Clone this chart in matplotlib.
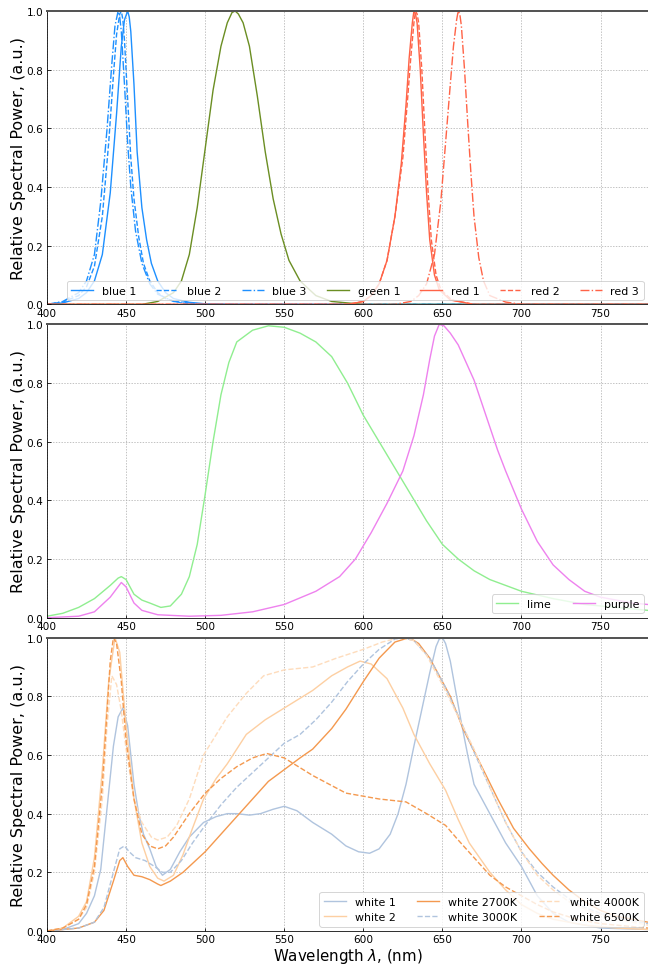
import numpy as np
import matplotlib.pyplot as plt

# ---- top panel: single-colour LEDs ----
wl_blue1 = [400, 410, 420, 425, 430, 435, 440, 444, 447, 449, 451, 452, 453, 455, 457, 460, 463, 466, 470, 475, 480, 490, 500, 520, 780]
blue1 = [0, 0.005, 0.02, 0.04, 0.08, 0.17, 0.38, 0.65, 0.88, 0.97, 1.0, 0.98, 0.93, 0.75, 0.52, 0.33, 0.22, 0.14, 0.08, 0.04, 0.02, 0.007, 0.002, 0, 0]

wl_blue2 = [400, 410, 420, 425, 430, 435, 439, 442, 444, 446, 447, 448, 449, 451, 453, 455, 458, 461, 465, 470, 475, 485, 500, 780]
blue2 = [0, 0.008, 0.03, 0.06, 0.13, 0.3, 0.55, 0.78, 0.92, 0.99, 1.0, 0.97, 0.9, 0.7, 0.5, 0.36, 0.23, 0.14, 0.08, 0.04, 0.02, 0.005, 0, 0]

wl_blue3 = [400, 410, 420, 425, 430, 434, 438, 441, 443, 445, 446, 447, 449, 451, 453, 456, 460, 465, 470, 480, 500, 780]
blue3 = [0, 0.01, 0.04, 0.08, 0.17, 0.35, 0.6, 0.82, 0.95, 1.0, 0.98, 0.93, 0.75, 0.55, 0.4, 0.25, 0.14, 0.07, 0.035, 0.01, 0, 0]

wl_green1 = [400, 460, 470, 480, 485, 490, 495, 500, 505, 510, 514, 517, 519, 521, 524, 528, 533, 538, 543, 548, 553, 560, 570, 580, 600, 780]
green1 = [0, 0, 0.01, 0.04, 0.08, 0.17, 0.33, 0.53, 0.73, 0.88, 0.96, 0.995, 1.0, 0.99, 0.96, 0.88, 0.71, 0.52, 0.36, 0.24, 0.15, 0.08, 0.03, 0.01, 0, 0]

wl_red1 = [400, 590, 600, 605, 610, 615, 620, 624, 627, 629, 631, 632, 633, 634, 636, 638, 640, 642, 645, 648, 655, 670, 780]
red1 = [0, 0, 0.01, 0.03, 0.07, 0.15, 0.3, 0.48, 0.68, 0.84, 0.96, 1.0, 0.99, 0.96, 0.8, 0.58, 0.38, 0.22, 0.1, 0.05, 0.015, 0, 0]

wl_red2 = [400, 590, 600, 605, 610, 615, 620, 625, 628, 630, 632, 633, 634, 635, 637, 639, 641, 643, 646, 649, 656, 670, 780]
red2 = [0, 0, 0.01, 0.03, 0.07, 0.15, 0.3, 0.5, 0.7, 0.84, 0.96, 1.0, 0.99, 0.96, 0.8, 0.58, 0.38, 0.22, 0.1, 0.05, 0.015, 0, 0]

wl_red3 = [400, 620, 630, 635, 640, 645, 649, 652, 655, 657, 659, 660, 661, 662, 664, 666, 668, 670, 673, 676, 680, 690, 700, 780]
red3 = [0, 0, 0.01, 0.03, 0.07, 0.17, 0.35, 0.55, 0.75, 0.88, 0.97, 1.0, 0.99, 0.95, 0.8, 0.62, 0.45, 0.3, 0.16, 0.08, 0.03, 0.008, 0, 0]

# ---- middle panel: phosphor-converted colours ----
wl_lime = [400, 410, 420, 430, 440, 445, 447, 450, 455, 460, 465, 472, 478, 485, 490, 495, 500, 505, 510, 515, 520, 530, 540, 550,
           560, 570, 580, 590, 600, 610, 620, 630, 640, 650, 660, 670, 680, 690, 700, 720, 740, 760, 780]
lime = [0.005, 0.015, 0.035, 0.065, 0.11, 0.135, 0.14, 0.13, 0.08, 0.06, 0.05, 0.035, 0.04, 0.08, 0.14, 0.25, 0.42, 0.6, 0.76, 0.87, 0.94, 0.98, 0.995, 0.99,
        0.97, 0.94, 0.89, 0.8, 0.69, 0.6, 0.51, 0.42, 0.33, 0.25, 0.2, 0.16, 0.13, 0.11, 0.09, 0.065, 0.045, 0.035, 0.025]

wl_purple = [400, 420, 430, 440, 447, 450, 455, 460, 470, 490, 510, 530, 550, 570, 585, 595, 605, 615, 625, 632, 638, 642, 645, 648,
             651, 655, 660, 670, 680, 685, 690, 700, 710, 720, 730, 740, 750, 760, 770, 780]
purple = [0, 0.005, 0.02, 0.07, 0.12, 0.105, 0.05, 0.025, 0.01, 0.005, 0.008, 0.02, 0.045, 0.09, 0.14, 0.2, 0.29, 0.39, 0.5, 0.62, 0.76, 0.88, 0.96, 1.0,
          0.995, 0.97, 0.93, 0.81, 0.65, 0.57, 0.5, 0.37, 0.26, 0.18, 0.13, 0.09, 0.07, 0.06, 0.05, 0.045]

# ---- bottom panel: white LEDs ----
wl_white1 = [400, 410, 420, 425, 430, 434, 438, 442, 445, 448, 451, 455, 458, 461, 465, 469, 473, 478, 484, 490, 499, 507, 514, 520, 528, 535,
             543, 550, 558, 568, 580, 589, 597, 604, 610, 617, 622, 627, 632, 638, 642, 646, 648, 650, 652, 655, 658, 662, 666, 670, 680, 690,
             700, 710, 720, 730, 750, 780]
white1 = [0, 0.005, 0.025, 0.06, 0.12, 0.21, 0.42, 0.63, 0.73, 0.76, 0.7, 0.5, 0.4, 0.33, 0.28, 0.22, 0.19, 0.21, 0.27, 0.32, 0.37, 0.39, 0.4, 0.4, 0.395, 0.4,
          0.415, 0.425, 0.41, 0.37, 0.33, 0.29, 0.27, 0.265, 0.28, 0.33, 0.4, 0.5, 0.63, 0.78, 0.88, 0.97, 0.995, 1.0, 0.98, 0.92, 0.83, 0.71, 0.6, 0.5, 0.4, 0.3,
          0.22, 0.12, 0.06, 0.03, 0.01, 0.005]

wl_white2 = [400, 410, 420, 425, 430, 435, 439, 443, 446, 450, 455, 460, 465, 470, 474, 480, 486, 492, 499, 507, 514, 526, 538, 550,
             568, 580, 590, 598, 605, 615, 625, 632, 642, 652, 660, 667, 680, 690, 700, 710, 720, 740, 760, 780]
white2 = [0, 0.01, 0.05, 0.1, 0.25, 0.55, 0.85, 1.0, 0.95, 0.7, 0.45, 0.3, 0.22, 0.18, 0.17, 0.19, 0.26, 0.35, 0.45, 0.52, 0.57, 0.67, 0.72, 0.76,
          0.82, 0.87, 0.9, 0.92, 0.91, 0.86, 0.76, 0.67, 0.57, 0.48, 0.38, 0.3, 0.2, 0.14, 0.09, 0.06, 0.04, 0.02, 0.01, 0.005]

wl_w2700 = [400, 420, 430, 436, 442, 446, 448, 451, 455, 460, 465, 470, 472, 478, 486, 494, 500, 510, 520, 530, 540, 550, 560, 568,
            580, 589, 600, 610, 620, 629, 635, 642, 655, 663, 674, 685, 695, 705, 713, 720, 730, 740, 750, 760, 780]
w2700 = [0, 0.01, 0.03, 0.07, 0.17, 0.24, 0.25, 0.22, 0.19, 0.185, 0.175, 0.16, 0.155, 0.17, 0.2, 0.24, 0.27, 0.33, 0.39, 0.45, 0.51, 0.55, 0.59, 0.62,
         0.69, 0.756, 0.85, 0.93, 0.985, 1.0, 0.98, 0.93, 0.8, 0.69, 0.57, 0.45, 0.35, 0.28, 0.23, 0.19, 0.14, 0.1, 0.07, 0.05, 0.03]

wl_w3000 = [400, 420, 430, 436, 442, 446, 449, 452, 456, 462, 468, 473, 478, 485, 492, 500, 510, 520, 530, 540, 550, 560, 570, 580,
            590, 600, 610, 620, 625, 632, 642, 652, 662, 670, 680, 690, 700, 710, 720, 730, 740, 750, 765, 780]
w3000 = [0, 0.01, 0.03, 0.08, 0.2, 0.28, 0.29, 0.27, 0.25, 0.24, 0.22, 0.2, 0.2, 0.24, 0.3, 0.36, 0.43, 0.49, 0.54, 0.59, 0.64, 0.67, 0.72, 0.78,
         0.85, 0.91, 0.96, 0.995, 1.0, 0.99, 0.93, 0.83, 0.71, 0.61, 0.49, 0.37, 0.27, 0.2, 0.15, 0.11, 0.08, 0.06, 0.04, 0.025]

wl_w4000 = [400, 410, 420, 425, 430, 435, 438, 441, 444, 447, 450, 455, 460, 466, 470, 476, 482, 490, 499, 514, 526, 537, 550, 568,
            583, 600, 612, 623, 632, 640, 650, 660, 670, 680, 690, 700, 710, 720, 730, 740, 750, 765, 780]
w4000 = [0, 0.01, 0.04, 0.08, 0.2, 0.45, 0.7, 0.87, 0.84, 0.75, 0.62, 0.45, 0.37, 0.32, 0.31, 0.32, 0.36, 0.45, 0.6, 0.73, 0.81, 0.87, 0.89, 0.9,
         0.93, 0.96, 0.985, 1.0, 0.99, 0.94, 0.84, 0.73, 0.62, 0.49, 0.37, 0.27, 0.19, 0.14, 0.1, 0.075, 0.055, 0.035, 0.02]

wl_w6500 = [400, 410, 420, 425, 430, 435, 438, 440, 442, 444, 447, 450, 455, 460, 465, 470, 475, 480, 490, 500, 510, 520, 530, 539,
            550, 568, 589, 610, 627, 640, 652, 660, 670, 680, 690, 700, 710, 720, 735, 750, 780]
w6500 = [0, 0.01, 0.04, 0.09, 0.22, 0.5, 0.75, 0.92, 1.0, 0.98, 0.85, 0.65, 0.45, 0.33, 0.29, 0.28, 0.29, 0.32, 0.4, 0.47, 0.52, 0.56, 0.59, 0.605,
         0.59, 0.53, 0.47, 0.45, 0.44, 0.4, 0.36, 0.31, 0.25, 0.19, 0.15, 0.12, 0.09, 0.065, 0.04, 0.025, 0.01]

fig, axes = plt.subplots(3, 1, figsize=(9, 13.458), dpi=72)
fig.subplots_adjust(left=0.0725, right=1.0, top=0.9876, bottom=0.0382, hspace=0.068)

lw = 1.4
leg_fs = 11
ax1, ax2, ax3 = axes
ax1.plot(wl_blue1, blue1, color='dodgerblue', ls='-', lw=lw, label='blue 1')
ax1.plot(wl_blue2, blue2, color='dodgerblue', ls='--', lw=lw, label='blue 2')
ax1.plot(wl_blue3, blue3, color='dodgerblue', ls='-.', lw=lw, label='blue 3')
ax1.plot(wl_green1, green1, color='olivedrab', ls='-', lw=lw, label='green 1')
ax1.plot(wl_red1, red1, color='tomato', ls='-', lw=lw, label='red 1')
ax1.plot(wl_red2, red2, color='tomato', ls='--', lw=lw, label='red 2')
ax1.plot(wl_red3, red3, color='tomato', ls='-.', lw=lw, label='red 3')
ax1.legend(loc='lower right', ncol=7, fontsize=leg_fs, borderaxespad=0.4, columnspacing=1.83)

ax2.plot(wl_lime, lime, color='lightgreen', lw=lw, label='lime')
ax2.plot(wl_purple, purple, color='violet', lw=lw, label='purple')
ax2.legend(loc='lower right', ncol=2, fontsize=leg_fs, borderaxespad=0.4)

ax3.plot(wl_white1, white1, color='lightsteelblue', ls='-', lw=lw, label='white 1')
ax3.plot(wl_white2, white2, color='#fdcfa2', ls='-', lw=lw, label='white 2')
ax3.plot(wl_w2700, w2700, color='#f4994f', ls='-', lw=lw, label='white 2700K')
ax3.plot(wl_w3000, w3000, color='lightsteelblue', ls='--', lw=lw, label='white 3000K')
ax3.plot(wl_w4000, w4000, color='#fedcbc', ls='--', lw=lw, label='white 4000K')
ax3.plot(wl_w6500, w6500, color='#f4994f', ls='--', lw=lw, label='white 6500K')
ax3.legend(loc='lower right', ncol=3, fontsize=leg_fs, borderaxespad=0.4)
ax3.set_xlabel(r'Wavelength $\lambda$, (nm)', fontsize=15, labelpad=2)

for ax in axes:
    ax.set_xlim(400, 780)
    ax.set_ylim(0, 1.0)
    ax.set_xticks([400, 450, 500, 550, 600, 650, 700, 750])
    ax.set_yticks([0.0, 0.2, 0.4, 0.6, 0.8, 1.0])
    ax.tick_params(direction='in', labelsize=10.5)
    ax.grid(True, color='#aaaaaa', ls=(0, (2, 2)), lw=0.7)
    ax.set_ylabel('Relative Spectral Power, (a.u.)', fontsize=16, labelpad=1)
    ax.spines['top'].set_color('#555555')
    ax.spines['top'].set_linewidth(2)
    ax.spines['right'].set_visible(False)

fig.savefig('out.png', dpi=72)
